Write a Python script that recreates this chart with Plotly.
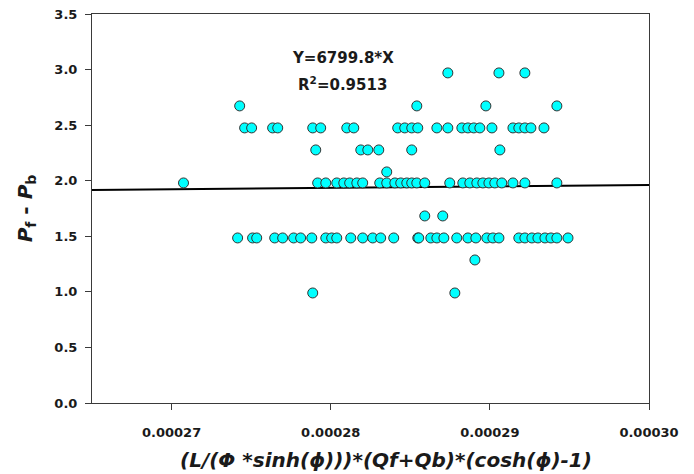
import plotly.graph_objects as go

# ---- data ----
x_297 = [0.00028736, 0.00029057, 0.00029220]
x_267 = [0.00027428, 0.00028541, 0.00028975, 0.00029421]
x_2475 = [0.00027459, 0.00027503, 0.00027635, 0.00027667, 0.00027887, 0.00027937,
          0.00028101, 0.00028145, 0.00028421, 0.00028465, 0.00028509, 0.00028547,
          0.00028667, 0.00028736, 0.00028824, 0.00028862, 0.00028899, 0.00028937,
          0.00029013, 0.00029145, 0.00029182, 0.00029220, 0.00029258, 0.00029340]
x_2277 = [0.00027906, 0.00028189, 0.00028233, 0.00028302, 0.00028509, 0.00029063]
x_2079 = [0.00028352]
x_198 = [0.00027075, 0.00027918, 0.00027969, 0.00028038, 0.00028082, 0.00028119,
         0.00028164, 0.00028201, 0.00028308, 0.00028352, 0.00028403, 0.00028440,
         0.00028478, 0.00028509, 0.00028541, 0.00028591, 0.00028748, 0.00028830,
         0.00028874, 0.00028918, 0.00028956, 0.00028994, 0.00029031, 0.00029075,
         0.00029145, 0.00029220, 0.00029421]
x_1683 = [0.00028591, 0.00028704]
x_1485 = [0.00027415, 0.00027509, 0.00027535, 0.00027648, 0.00027698, 0.00027767,
          0.00027811, 0.00027881, 0.00027969, 0.00028006, 0.00028038, 0.00028126,
          0.00028201, 0.00028264, 0.00028314, 0.00028396, 0.00028547, 0.00028553,
          0.00028629, 0.00028667, 0.00028711, 0.00028792, 0.00028862, 0.00028912,
          0.00028981, 0.00029019, 0.00029057, 0.00029182, 0.00029220, 0.00029264,
          0.00029302, 0.00029346, 0.00029384, 0.00029421, 0.00029491]
x_1287 = [0.00028906]
x_099 = [0.00027887, 0.00028780]

groups = [(2.97, x_297), (2.673, x_267), (2.475, x_2475), (2.277, x_2277),
          (2.079, x_2079), (1.98, x_198), (1.683, x_1683), (1.485, x_1485),
          (1.287, x_1287), (0.99, x_099)]

fit_x = [0.000265, 0.00030]
fit_y = [1.917, 1.962]

x_ticks = [0.00027, 0.00028, 0.00029, 0.00030]
x_tick_text = ["0.00027", "0.00028", "0.00029", "0.00030"]
y_ticks = [0.0, 0.5, 1.0, 1.5, 2.0, 2.5, 3.0, 3.5]
y_tick_text = ["0.0", "0.5", "1.0", "1.5", "2.0", "2.5", "3.0", "3.5"]

xs, ys = [], []
for yv, xl in groups:
    for xv in xl:
        xs.append(xv)
        ys.append(yv)

FONT = "DejaVu Sans"
AXC = "#3a3a3a"
TXT = "#1a1a1a"

fig = go.Figure()
fig.add_trace(go.Scatter(x=fit_x, y=fit_y, mode="lines",
                         line=dict(color="black", width=2), hoverinfo="skip"))
fig.add_trace(go.Scatter(x=xs, y=ys, mode="markers",
                         marker=dict(color="#00FFFF", size=10,
                                     line=dict(color="#333333", width=1))))

axis_common = dict(showline=True, linecolor=AXC, linewidth=1, mirror=True,
                   ticks="outside", ticklen=6, tickcolor=AXC, tickwidth=1,
                   showgrid=False, zeroline=False, automargin=False,
                   tickfont=dict(family=FONT, size=13, color=TXT, weight="bold"))

fig.update_layout(
    width=694, height=474,
    margin=dict(l=92, r=45, t=14, b=71),
    paper_bgcolor="white", plot_bgcolor="white",
    showlegend=False,
    xaxis=dict(range=[0.000265, 0.00030], tickvals=x_ticks, ticktext=x_tick_text,
               ticklabelstandoff=11, **axis_common),
    yaxis=dict(range=[0, 3.5], tickvals=y_ticks, ticktext=y_tick_text,
               ticklabelstandoff=5,
               title=dict(text="<i>P</i><sub>f</sub> - <i>P</i><sub>b</sub>",
                          font=dict(family=FONT, size=20, color=TXT, weight="bold"),
                          standoff=16),
               **axis_common),
    annotations=[
        dict(x=0.00028075, y=3.10, xref="x", yref="y", showarrow=False,
             text="Y=6799.8*X",
             font=dict(family=FONT, size=15, color=TXT, weight="bold")),
        dict(x=0.00028075, y=2.87, xref="x", yref="y", showarrow=False,
             text="R<sup>2</sup>=0.9513",
             font=dict(family=FONT, size=15, color=TXT, weight="bold")),
        dict(x=0.527, y=-0.1465, xref="paper", yref="paper", showarrow=False,
             xanchor="center", yanchor="middle",
             text="(L/(Φ *sinh(ϕ)))*(Qf+Qb)*(cosh(ϕ)-1)",
             font=dict(family=FONT, size=20, color=TXT, weight="bold", style="italic")),
    ],
)

fig.write_html("out.html")
